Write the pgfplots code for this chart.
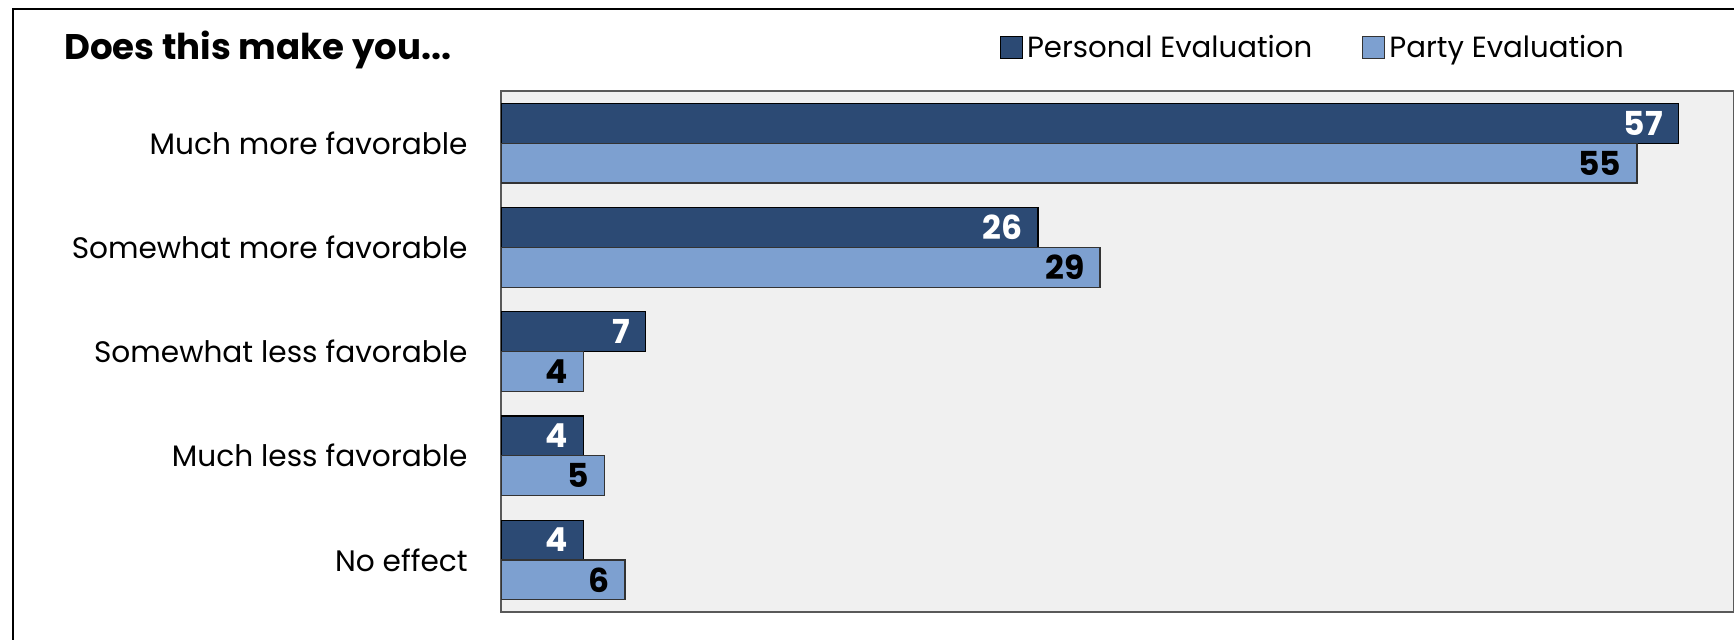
\documentclass[border=0pt]{standalone}
\usepackage{fontspec}
\setmainfont{Poppins}
\usepackage{pgfplots}
\pgfplotsset{compat=1.18}
\definecolor{darkbar}{HTML}{2C4A74}
\definecolor{lightbar}{HTML}{7DA0D0}
\definecolor{plotbg}{HTML}{F0F0F0}
\begin{document}
\begin{tikzpicture}
\useasboundingbox (0,0) rectangle (867pt,319.5pt);
\draw[line width=1.3pt] (6.5pt,-5pt) -- (6.5pt,315pt) -- (870pt,315pt);
\node[anchor=west, inner sep=0pt, font=\fontsize{17.8}{20}\selectfont\bfseries] at (32pt,294.5pt) {Does this make you...};
\begin{axis}[at={(250.5pt,13.5pt)}, anchor=south west, scale only axis,
  width=616.5pt, height=260.5pt,
  xbar, xmin=0, xmax=59.7, ymin=-0.5, ymax=4.5, bar width=19.9pt,
  axis background/.style={fill=plotbg},
  axis line style={draw=gray!70!black, line width=0.8pt},
  xtick=\empty, ytick={0,1,2,3,4},
  yticklabels={No effect, Much less favorable, Somewhat less favorable, Somewhat more favorable, Much more favorable},
  major tick length=0pt,
  yticklabel style={font=\fontsize{14.8}{17}\selectfont, inner sep=0pt, xshift=-16.5pt},
  point meta=x,
  /pgf/number format/assume math mode=true,
  nodes near coords,
  every node near coord/.append style={anchor=east, inner sep=0pt, xshift=-7.5pt, font=\fontsize{16.5}{18}\selectfont\bfseries},
  legend style={at={(0.4046,1.0835)}, anchor=west, draw=none, fill=none, inner sep=0pt, outer sep=0pt,
    font=\fontsize{14.6}{16}\selectfont, /tikz/every even column/.append style={column sep=23pt}},
  legend columns=2, legend cell align=left,
  legend image code/.code={\draw[#1, line width=0.6pt] (0pt,-5.5pt) rectangle (11pt,5.5pt);},
]
\addplot[fill=darkbar, draw=black, line width=0.6pt, bar shift=9.95pt, nodes near coords style={text=white}]
  coordinates {(57,4) (26,3) (7,2) (4,1) (4,0)};
\addplot[fill=lightbar, draw=black!80, line width=0.6pt, bar shift=-9.95pt, nodes near coords style={text=black}]
  coordinates {(55,4) (29,3) (4,2) (5,1) (6,0)};
\legend{Personal Evaluation, Party Evaluation}
\end{axis}
\end{tikzpicture}
\end{document}
